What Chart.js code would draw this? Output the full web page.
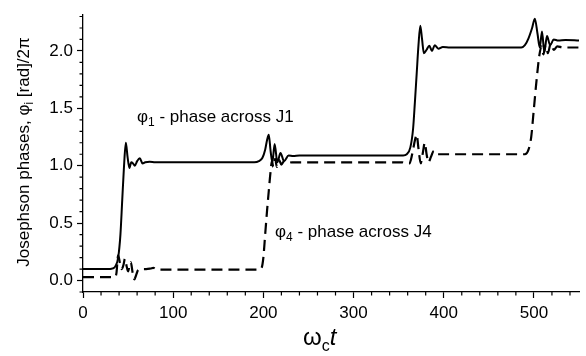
<!DOCTYPE html>
<html>
<head>
<meta charset="utf-8">
<script src="https://cdn.jsdelivr.net/npm/chart.js@4/dist/chart.umd.min.js"></script>
<style>
  html, body { margin: 0; padding: 0; background: #fff; }
  #wrap { width: 586px; height: 356px; position: relative; }
</style>
</head>
<body>
<div id="wrap"><canvas id="chart" width="586" height="356"></canvas></div>
<script>
// phase across J1 (solid)
const time1 = [0, 30, 33, 36, 39, 41.5, 43.5, 45.5, 47.5, 49.5, 51.5, 53.5, 55.5, 57.5, 60, 63, 66, 69, 74, 80,
    190, 195, 199, 202, 204, 206, 208, 210, 212.5, 215.5, 219, 223, 228, 233, 240,
    355, 359, 363, 366, 368, 370, 372, 374, 376, 378, 381, 384, 387, 390, 394, 399, 407,
    486, 490, 494, 498, 501, 504, 506.5, 509, 511.5, 514.5, 518, 522, 527, 535, 550];
const phase1 = [0.10, 0.10, 0.105, 0.125, 0.20, 0.40, 0.70, 1.00, 1.20, 1.07, 0.98, 1.03, 1.02, 1.00, 1.04, 1.065, 1.02, 1.03, 1.035, 1.03,
    1.03, 1.04, 1.07, 1.14, 1.22, 1.27, 1.13, 1.03, 1.19, 1.03, 1.11, 1.04, 1.09, 1.085, 1.09,
    1.09, 1.10, 1.16, 1.32, 1.55, 1.80, 2.05, 2.22, 2.10, 1.98, 2.01, 2.045, 2.00, 2.05, 2.02, 2.035, 2.03,
    2.03, 2.05, 2.11, 2.20, 2.28, 2.15, 2.03, 2.17, 1.99, 2.13, 2.05, 2.10, 2.09, 2.095, 2.09];

// phase across J4 (dashed)
const time4 = [0, 35, 37, 39, 41, 43, 45, 46.5, 48.5, 50, 51.5, 53, 55, 57, 59, 61, 65, 70, 75, 78, 82, 90,
    195, 198, 200, 202, 204, 206, 208, 209.5, 211, 213, 215, 217.5, 220, 223, 227, 232,
    354, 358, 362, 365, 368, 370, 372, 374.5, 377, 379, 381, 383, 386, 389, 393, 398,
    490, 494, 497, 500, 503, 506, 508.5, 510.5, 513, 515.5, 518.5, 522, 526, 532, 550];
const phase4 = [0.03, 0.03, 0.06, 0.22, 0.15, 0.10, 0.14, 0.19, 0.12, 0.08, 0.13, 0.16, 0.07, 0.01, 0.05, 0.09, 0.10, 0.10, 0.105, 0.11, 0.095, 0.095,
    0.095, 0.11, 0.20, 0.40, 0.60, 0.78, 0.95, 1.04, 0.99, 1.06, 0.99, 1.05, 1.01, 1.04, 1.025, 1.03,
    1.03, 1.02, 1.02, 1.10, 1.22, 1.27, 1.15, 1.02, 1.12, 1.20, 1.10, 1.03, 1.08, 1.13, 1.10, 1.10,
    1.10, 1.14, 1.25, 1.50, 1.75, 1.96, 2.04, 1.97, 2.05, 1.98, 2.06, 2.01, 2.04, 2.03, 2.03];

const xTicks = [0, 100, 200, 300, 400, 500];
const xMinorTicks = [20, 40, 60, 80, 120, 140, 160, 180, 220, 240, 260, 280, 320, 340, 360, 380, 420, 440, 460, 480, 520, 540];
const yTicks = [0.0, 0.5, 1.0, 1.5, 2.0];
const yMinorTicks = [-0.1, 0.1, 0.2, 0.3, 0.4, 0.6, 0.7, 0.8, 0.9, 1.1, 1.2, 1.3, 1.4, 1.6, 1.7, 1.8, 1.9, 2.1, 2.2, 2.3];

const FONT = "'Liberation Sans', Arial, sans-serif";

const toPoints = (xs, ys) => xs.map((x, i) => ({ x: x, y: ys[i] }));

// draws text made of pieces, some of them lowered as subscripts
const drawPieces = (ctx, x, y, pieces) => {
    let cx = x;
    pieces.forEach(p => {
        ctx.font = p.font;
        ctx.fillText(p.text, cx, y + (p.dy || 0));
        cx += ctx.measureText(p.text).width;
    });
};
const piecesWidth = (ctx, pieces) => pieces.reduce((w, p) => { ctx.font = p.font; return w + ctx.measureText(p.text).width; }, 0);

const extras = {
    id: 'extras',
    afterDraw(chart) {
        const ctx = chart.ctx;
        const xs = chart.scales.x, ys = chart.scales.y;
        ctx.save();
        // minor ticks
        ctx.strokeStyle = '#000';
        ctx.lineWidth = 1.2;
        ctx.beginPath();
        xMinorTicks.forEach(v => {
            const p = xs.getPixelForValue(v);
            ctx.moveTo(p, xs.top);
            ctx.lineTo(p, xs.top + 3.5);
        });
        yMinorTicks.forEach(v => {
            const p = ys.getPixelForValue(v);
            ctx.moveTo(ys.right, p);
            ctx.lineTo(ys.right - 3.5, p);
        });
        ctx.stroke();

        ctx.fillStyle = '#000';
        ctx.textBaseline = 'alphabetic';
        ctx.textAlign = 'left';

        // curve labels
        const f = '17px ' + FONT, fs = '12px ' + FONT;
        drawPieces(ctx, 137, 122, [
            { text: 'φ', font: f }, { text: '1', font: fs, dy: 4 }, { text: ' - phase across J1', font: f }]);
        drawPieces(ctx, 275, 237, [
            { text: 'φ', font: f }, { text: '4', font: fs, dy: 4 }, { text: ' - phase across J4', font: f }]);

        // x axis title
        drawPieces(ctx, 303, 345, [
            { text: 'ω', font: '24px ' + FONT }, { text: 'c', font: '16px ' + FONT, dy: 6 },
            { text: 't', font: 'italic 24px ' + FONT }]);

        // y axis title
        const yt = [
            { text: 'Josephson phases, φ', font: '17px ' + FONT },
            { text: 'i', font: '12px ' + FONT, dy: 4 },
            { text: ' [rad]/2π', font: '17px ' + FONT }];
        const w = piecesWidth(ctx, yt);
        ctx.translate(29, 152);
        ctx.rotate(-Math.PI / 2);
        drawPieces(ctx, -w / 2, 0, yt);
        ctx.restore();
    }
};

const tickFont = { family: FONT, size: 17 };

new Chart(document.getElementById('chart'), {
    type: 'line',
    data: {
        datasets: [{
            label: 'phi1',
            data: toPoints(time1, phase1),
            borderColor: '#000',
            borderWidth: 2,
            pointRadius: 0,
            cubicInterpolationMode: 'monotone',
            fill: false
        }, {
            label: 'phi4',
            data: toPoints(time4, phase4),
            borderColor: '#000',
            borderWidth: 2.2,
            borderDash: [11, 6],
            pointRadius: 0,
            cubicInterpolationMode: 'monotone',
            fill: false
        }]
    },
    options: {
        responsive: false,
        animation: false,
        layout: { padding: { top: 13, right: 7, left: 0, bottom: 0 } },
        plugins: { legend: { display: false }, tooltip: { enabled: false } },
        scales: {
            x: {
                type: 'linear',
                min: 0,
                max: 550,
                afterFit: s => { s.height = 64; },
                afterBuildTicks: s => { s.ticks = xTicks.map(v => ({ value: v })); },
                grid: { drawOnChartArea: false, drawTicks: true, tickLength: 6, tickColor: '#000', tickWidth: 1.2 },
                border: { display: true, color: '#000', width: 1.3 },
                ticks: { color: '#000', font: tickFont, padding: 5, maxRotation: 0, autoSkip: false }
            },
            y: {
                min: -0.1,
                max: 2.32,
                afterFit: s => { s.width = 83; },
                afterBuildTicks: s => { s.ticks = yTicks.map(v => ({ value: v })); },
                grid: { drawOnChartArea: false, drawTicks: true, tickLength: 6, tickColor: '#000', tickWidth: 1.2 },
                border: { display: true, color: '#000', width: 1.3 },
                ticks: { color: '#000', font: tickFont, padding: 4, callback: v => v.toFixed(1) }
            }
        }
    },
    plugins: [extras]
});
</script>
</body>
</html>
